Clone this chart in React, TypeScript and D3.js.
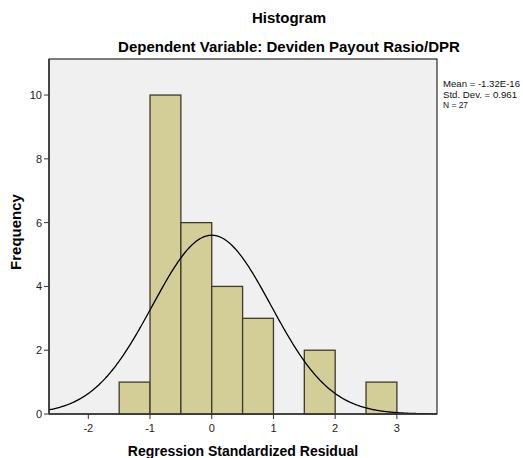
import React from "react";
import * as d3 from "d3";

const binStarts = [-1.5, -1.0, -0.5, 0.0, 0.5, 1.0, 1.5, 2.0, 2.5];
const binCounts = [1, 10, 6, 4, 3, 0, 2, 0, 1];
const binWidth = 0.5;
const xTicks = [-2, -1, 0, 1, 2, 3];
const yTicks = [0, 2, 4, 6, 8, 10];
const statLines = ["Mean = -1.32E-16", "Std. Dev. = 0.961", "N = 27"];
const statWidths = [77, 74, 25];
const mean = -1.32e-16;
const sd = 0.961;
const n = 27;

export default function App() {
  const W = 523, H = 458;
  const left = 49, right = 437, top = 59, bottom = 414;
  const x = d3.scaleLinear().domain([-2.637, 3.65]).range([left, right]);
  const y = d3.scaleLinear().domain([0, 11.13]).range([bottom, top]);
  const font = "'Liberation Sans', Arial, sans-serif";

  const pts: [number, number][] = d3.range(0, 401).map((i) => {
    const v = -2.637 + (i / 400) * (3.65 + 2.637);
    const pdf = Math.exp(-0.5 * ((v - mean) / sd) ** 2) / (sd * Math.sqrt(2 * Math.PI));
    return [v, n * binWidth * pdf];
  });
  const line = d3.line<[number, number]>().x((d) => x(d[0])).y((d) => y(d[1]));

  return (
    <svg width={W} height={H} style={{ position: "absolute", left: 0, top: 0, background: "#fff" }} fontFamily={font}>
      <rect x={0} y={0} width={W} height={H} fill="#fff" />
      <text x={289} y={23} textAnchor="middle" fontSize={15} fontWeight="bold">Histogram</text>
      <text x={289} y={52} textAnchor="middle" fontSize={15} fontWeight="bold">Dependent Variable: Deviden Payout Rasio/DPR</text>
      <rect x={left} y={top} width={right - left} height={bottom - top} fill="#f0f0f0" stroke="#000" strokeWidth={1} />
      <defs>
        <clipPath id="plotclip">
          <rect x={left} y={top} width={right - left} height={bottom - top} />
        </clipPath>
      </defs>
      {binStarts.map((s, i) =>
        binCounts[i] > 0 ? (
          <rect
            key={i}
            x={x(s)}
            y={y(binCounts[i])}
            width={x(s + binWidth) - x(s)}
            height={y(0) - y(binCounts[i])}
            fill="#d3ce97"
            stroke="#3c3a2a"
            strokeWidth={1.3}
          />
        ) : null
      )}
      <path d={line(pts) || ""} fill="none" stroke="#000" strokeWidth={1.3} clipPath="url(#plotclip)" />
      <line x1={left} x2={left} y1={top} y2={bottom} stroke="#333" strokeWidth={1.5} />
      <line x1={left} x2={right} y1={bottom} y2={bottom} stroke="#333" strokeWidth={1.5} />
      {yTicks.map((t) => (
        <g key={t}>
          <line x1={left - 5} x2={left} y1={y(t)} y2={y(t)} stroke="#333" />
          <text x={left - 7} y={y(t) + 4} textAnchor="end" fontSize={11} fill="#222">{t}</text>
        </g>
      ))}
      {xTicks.map((t) => (
        <g key={t}>
          <line x1={x(t)} x2={x(t)} y1={bottom} y2={bottom + 5} stroke="#333" />
          <text x={x(t)} y={bottom + 18} textAnchor="middle" fontSize={11} fill="#222">{t}</text>
        </g>
      ))}
      <text x={243} y={456} textAnchor="middle" fontSize={14} fontWeight="bold">Regression Standardized Residual</text>
      <text transform={`translate(21,232) rotate(-90)`} textAnchor="middle" fontSize={15} fontWeight="bold">Frequency</text>
      {statLines.map((s, i) => (
        <text key={i} x={443} y={87 + i * 10.6} fontSize={9.2} fill="#111" textLength={statWidths[i]} lengthAdjust="spacingAndGlyphs">{s}</text>
      ))}
    </svg>
  );
}
